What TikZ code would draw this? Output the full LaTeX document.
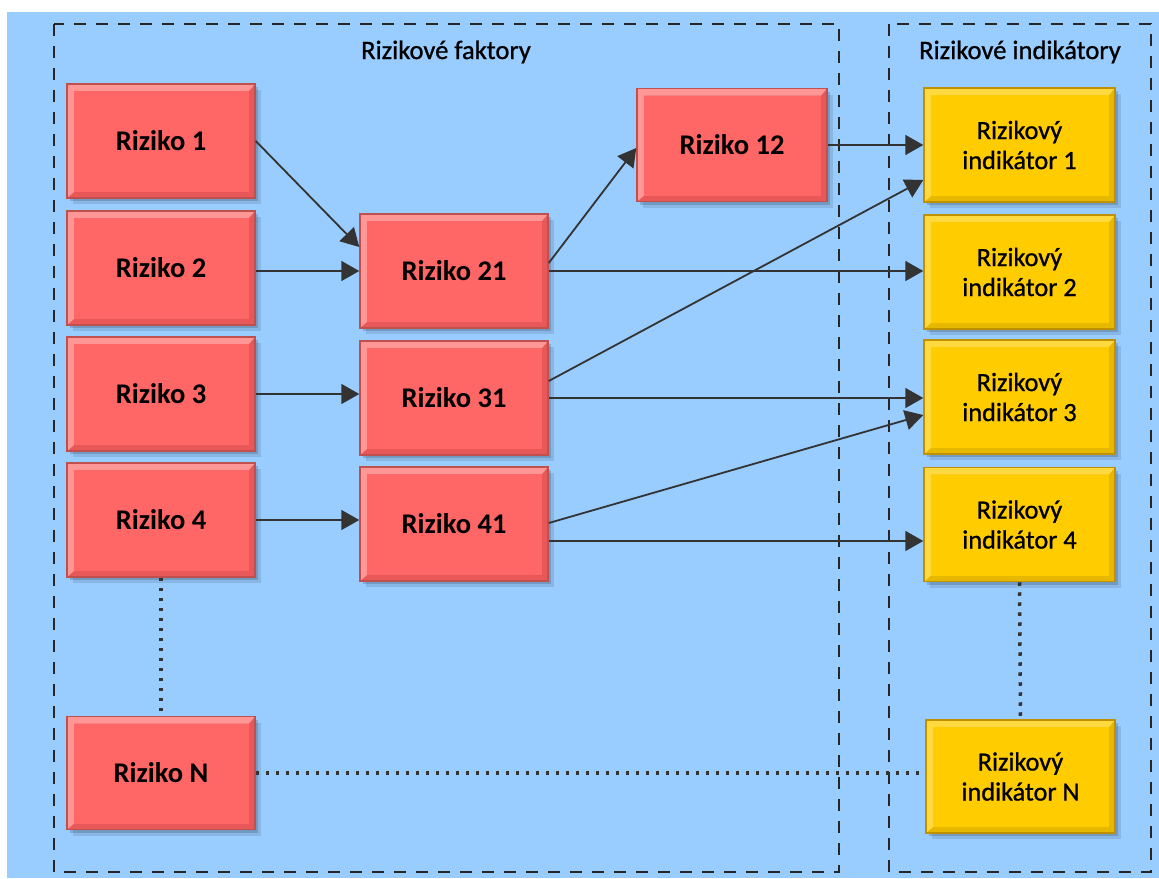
\documentclass[tikz,border=0pt]{standalone}
\usepackage{fontspec}
\setmainfont{Carlito}
\newfontfamily\medfont[FakeBold=0.9]{Carlito}
\usetikzlibrary{arrows.meta,shadows}

\definecolor{bgblue}{HTML}{99CCFF}
\definecolor{redmain}{HTML}{FF6666}
\definecolor{redlight}{HTML}{FF9797}
\definecolor{reddark}{HTML}{E85858}
\definecolor{redborder}{HTML}{C0504D}
\definecolor{yelmain}{HTML}{FFCC00}
\definecolor{yellight}{HTML}{FFD940}
\definecolor{yeldark}{HTML}{E6B800}
\definecolor{yelborder}{HTML}{BF9000}
\definecolor{linkgray}{HTML}{333333}

\tikzset{
  % raised look: light band top/left, darker band bottom/right
  bevel/.style 2 args={path picture={
    \fill[#1] (path picture bounding box.north west) -- (path picture bounding box.north east)
      -- ([shift={(-6pt,-7pt)}]path picture bounding box.north east)
      -- ([shift={(7pt,-7pt)}]path picture bounding box.north west)
      -- ([shift={(7pt,6pt)}]path picture bounding box.south west)
      -- (path picture bounding box.south west) -- cycle;
    \fill[#2] ([shift={(7pt,-7pt)}]path picture bounding box.north west)
      rectangle ([shift={(-6pt,6pt)}]path picture bounding box.south east);
  }},
  softshadow/.style={
    drop shadow={shadow xshift=3pt,shadow yshift=-3pt,opacity=.16,fill=black},
    drop shadow={shadow xshift=6pt,shadow yshift=-6pt,opacity=.10,fill=black}},
  rbox/.style={rectangle, minimum width=188pt, minimum height=114pt, inner sep=0pt,
    draw=redborder, line width=1.5pt, fill=reddark, bevel={redlight}{redmain}, softshadow,
    font=\bfseries\fontsize{28.5}{30}\selectfont},
  ybox/.style={rectangle, minimum width=191pt, minimum height=114pt, inner sep=0pt,
    draw=yelborder, line width=1.5pt, fill=yeldark, bevel={yellight}{yelmain}, softshadow,
    align=center, font=\medfont\fontsize{26.3}{30}\selectfont},
  link/.style={draw=linkgray, line width=1.8pt, -{Triangle[length=18pt,width=20pt]}},
  dots/.style={draw=linkgray, line width=3.5pt, dash pattern=on 3.5pt off 6.5pt},
  frame/.style={draw=black!85, line width=1.3pt, dash pattern=on 12pt off 10pt},
  title/.style={anchor=base, font=\medfont\fontsize{26.6}{30}\selectfont},
}

\begin{document}
\begin{tikzpicture}[x=1pt,y=-1pt]
\useasboundingbox (0,0) rectangle (1159,878);
\fill[bgblue] (7,12) rectangle (1159,878);

% group frames
\draw[frame] (54,24) rectangle (839,872);
\draw[frame] (889,24) rectangle (1151,872);
\node[title] (tf) at (446,59) {Rizikové faktory};
\node[title] (ti) at (1020,59) {Rizikové indikátory};

% risk factors
\node[rbox] (r1) at (161,141) {Riziko 1};
\node[rbox] (r2) at (161,268) {Riziko 2};
\node[rbox] (r3) at (161,394) {Riziko 3};
\node[rbox] (r4) at (161,520) {Riziko 4};
\node[rbox, minimum height=113pt] (rn) at (161,773) {Riziko N};
\node[rbox] (r21) at (454,271) {Riziko 21};
\node[rbox] (r31) at (454,398) {Riziko 31};
\node[rbox] (r41) at (454,524) {Riziko 41};
\node[rbox, minimum width=190pt, minimum height=113pt] (r12) at (732,145) {Riziko 12};

% risk indicators
\node[ybox] (i1) at (1019.5,145) {Rizikový\\indikátor 1};
\node[ybox] (i2) at (1019.5,272) {Rizikový\\indikátor 2};
\node[ybox] (i3) at (1019.5,397) {Rizikový\\indikátor 3};
\node[ybox] (i4) at (1019.5,524.5) {Rizikový\\indikátor 4};
\node[ybox, minimum width=189pt, minimum height=113pt] (iN) at (1020.5,776.5) {Rizikový\\indikátor N};

% links
\draw[link] (r1.east) -- ([yshift=24pt]r21.west);
\draw[link] (r2.east |- r21.west) -- (r21.west);
\draw[link] (r3.east) -- (r3.east -| r31.west);
\draw[link] (r4.east) -- (r4.east -| r41.west);
\draw[link] ([yshift=8pt]r21.east) -- ([yshift=-3pt]r12.west);
\draw[link] (r12.east) -- (r12.east -| i1.west);
\draw[link] (r21.east) -- (r21.east -| i2.west);
\draw[link] ([yshift=17pt]r31.east) -- ([yshift=-35pt]i1.west);
\draw[link] (r31.east) -- (r31.east -| i3.west);
\draw[link] ([yshift=1pt]r41.east) -- ([yshift=-18pt]i3.west);
\draw[link] ([yshift=-17pt]r41.east) -- ([yshift=-17pt]r41.east -| i4.west);

% continuation
\draw[dots] (r4.south) -- (rn.north);
\draw[dots] (rn.east) -- (rn.east -| iN.west);
\draw[dots] (i4.south) -- (iN.north);
\end{tikzpicture}
\end{document}
